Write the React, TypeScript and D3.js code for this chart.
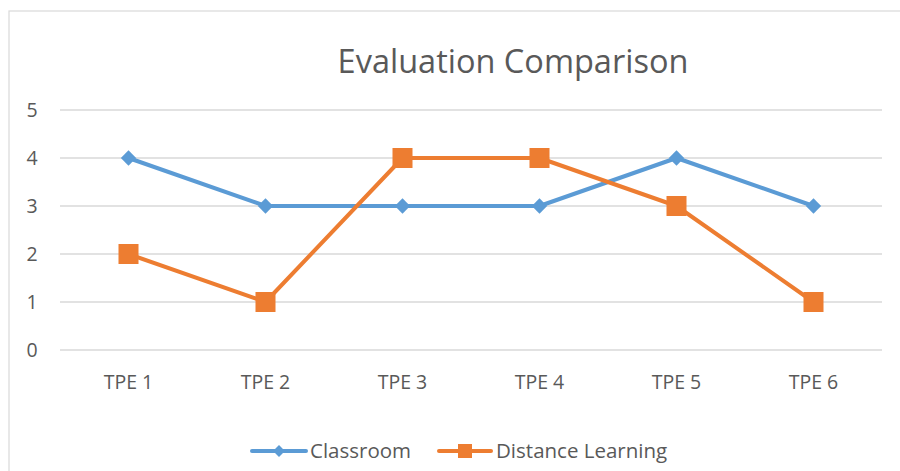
import React, { useEffect, useRef } from 'react';
import * as d3 from 'd3';

const categories = ['TPE 1', 'TPE 2', 'TPE 3', 'TPE 4', 'TPE 5', 'TPE 6'];
const classroom = [4, 3, 3, 3, 4, 3];
const distance = [2, 1, 4, 4, 3, 1];
const yTicks = [0, 1, 2, 3, 4, 5];

const width = 900;
const height = 471;
const margin = { top: 110, right: 18, bottom: 121, left: 60 };
const blue = '#5B9BD5';
const orange = '#ED7D31';
const textColor = '#595959';
const font = '"Open Sans", sans-serif';

export default function App() {
  const svgRef = useRef<SVGSVGElement>(null);

  useEffect(() => {
    const svg = d3.select(svgRef.current);
    svg.selectAll('*').remove();

    svg.append('rect').attr('width', width).attr('height', height).attr('fill', '#fff');

    // chart frame
    svg
      .append('rect')
      .attr('x', 9)
      .attr('y', 11)
      .attr('width', 1000)
      .attr('height', 1000)
      .attr('fill', 'none')
      .attr('stroke', '#d9d9d9')
      .attr('stroke-width', 1.2);

    const x = d3
      .scalePoint()
      .domain(categories)
      .range([margin.left, width - margin.right])
      .padding(0.5);

    const y = d3
      .scaleLinear()
      .domain([0, 5])
      .range([height - margin.bottom, margin.top]);

    // gridlines
    svg
      .append('g')
      .selectAll('line')
      .data(yTicks)
      .enter()
      .append('line')
      .attr('x1', margin.left)
      .attr('x2', width - margin.right)
      .attr('y1', (d) => y(d))
      .attr('y2', (d) => y(d))
      .attr('stroke', '#d9d9d9')
      .attr('stroke-width', 1.3);

    // y labels
    svg
      .append('g')
      .selectAll('text')
      .data(yTicks)
      .enter()
      .append('text')
      .text((d) => d)
      .attr('x', 32)
      .attr('y', (d) => y(d))
      .attr('dy', '0.35em')
      .attr('text-anchor', 'middle')
      .attr('font-family', font)
      .attr('font-size', 19.5)
      .attr('fill', textColor);

    // x labels
    svg
      .append('g')
      .selectAll('text')
      .data(categories)
      .enter()
      .append('text')
      .text((d) => d)
      .attr('x', (d) => x(d)!)
      .attr('y', 382)
      .attr('dy', '0.35em')
      .attr('text-anchor', 'middle')
      .attr('font-family', font)
      .attr('font-size', 19.5)
      .attr('fill', textColor);

    // title
    svg
      .append('text')
      .text('Evaluation Comparison')
      .attr('x', 513)
      .attr('y', 62)
      .attr('dy', '0.35em')
      .attr('text-anchor', 'middle')
      .attr('font-family', font)
      .attr('font-size', 32.5)
      .attr('fill', textColor);

    const line = d3
      .line<number>()
      .x((_, i) => x(categories[i])!)
      .y((d) => y(d));

    const diamond = d3.symbol().type(d3.symbolDiamond2).size(150);

    // classroom series
    svg
      .append('path')
      .datum(classroom)
      .attr('d', line)
      .attr('fill', 'none')
      .attr('stroke', blue)
      .attr('stroke-width', 4)
      .attr('stroke-linejoin', 'round');

    svg
      .append('g')
      .selectAll('path')
      .data(classroom)
      .enter()
      .append('path')
      .attr('d', diamond)
      .attr('transform', (d, i) => `translate(${x(categories[i])},${y(d)})`)
      .attr('fill', blue);

    // distance series
    svg
      .append('path')
      .datum(distance)
      .attr('d', line)
      .attr('fill', 'none')
      .attr('stroke', orange)
      .attr('stroke-width', 4)
      .attr('stroke-linejoin', 'round');

    svg
      .append('g')
      .selectAll('rect')
      .data(distance)
      .enter()
      .append('rect')
      .attr('x', (_, i) => x(categories[i])! - 10)
      .attr('y', (d) => y(d) - 10)
      .attr('width', 20)
      .attr('height', 20)
      .attr('fill', orange);

    // legend
    const legendY = 451;
    const leg = svg.append('g');
    leg
      .append('line')
      .attr('x1', 252)
      .attr('x2', 306)
      .attr('y1', legendY)
      .attr('y2', legendY)
      .attr('stroke', blue)
      .attr('stroke-width', 4)
      .attr('stroke-linecap', 'round');
    leg
      .append('path')
      .attr('d', d3.symbol().type(d3.symbolDiamond2).size(90))
      .attr('transform', `translate(279,${legendY})`)
      .attr('fill', blue);
    leg
      .append('text')
      .text('Classroom')
      .attr('x', 310)
      .attr('y', legendY)
      .attr('dy', '0.35em')
      .attr('font-family', font)
      .attr('font-size', 20.5)
      .attr('fill', textColor);

    leg
      .append('line')
      .attr('x1', 439)
      .attr('x2', 491)
      .attr('y1', legendY)
      .attr('y2', legendY)
      .attr('stroke', orange)
      .attr('stroke-width', 4)
      .attr('stroke-linecap', 'round');
    leg
      .append('rect')
      .attr('x', 458)
      .attr('y', legendY - 7)
      .attr('width', 14)
      .attr('height', 14)
      .attr('fill', orange);
    leg
      .append('text')
      .text('Distance Learning')
      .attr('x', 496)
      .attr('y', legendY)
      .attr('dy', '0.35em')
      .attr('font-family', font)
      .attr('font-size', 20.5)
      .attr('fill', textColor);
  }, []);

  return (
    <svg
      ref={svgRef}
      width={width}
      height={height}
      style={{ position: 'absolute', left: 0, top: 0, display: 'block' }}
    />
  );
}
